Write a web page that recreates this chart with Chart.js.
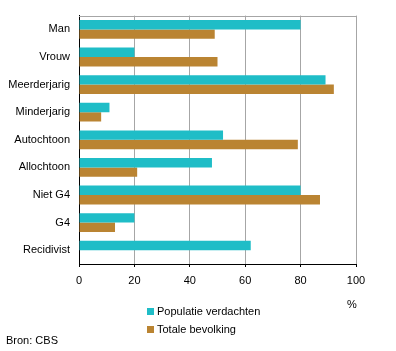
<!DOCTYPE html>
<html>
<head>
<meta charset="utf-8">
<script src="https://cdn.jsdelivr.net/npm/chart.js@4/dist/chart.umd.min.js"></script>
<style>
  body { margin: 0; background: #fff; }
  #wrap { position: relative; width: 396px; height: 351px; font-family: "Liberation Sans", Arial, sans-serif; font-size: 11px; color: #000; }
  canvas { position: absolute; left: 0; top: 0; }
  .lbl { position: absolute; white-space: nowrap; line-height: 13px; }
  .box { display: inline-block; width: 7px; height: 7px; margin-right: 3px; vertical-align: 0px; }
</style>
</head>
<body>
<div id="wrap">
  <canvas id="chart" width="396" height="351"></canvas>
  <div class="lbl" style="left:347px; top:298px;">%</div>
  <div class="lbl" id="leg1" style="left:147px; top:305px;"><span class="box" style="background:#1fbdc7"></span>Populatie verdachten</div>
  <div class="lbl" id="leg2" style="left:147px; top:323px;"><span class="box" style="background:#ba8432"></span>Totale bevolking</div>
  <div class="lbl" style="left:6px; top:334px;">Bron: CBS</div>
</div>
<script>
const categories = ["Man", "Vrouw", "Meerderjarig", "Minderjarig", "Autochtoon", "Allochtoon", "Niet G4", "G4", "Recidivist"];
const verdachten = [80, 20, 89, 11, 52, 48, 80, 20, 62];
const bevolking = [49, 50, 92, 8, 79, 21, 87, 13, null];
const xTicks = [0, 20, 40, 60, 80, 100];

// gray line along the top of the plot area
const topBorder = {
  id: "topBorder",
  beforeDatasetsDraw(chart) {
    const { ctx, chartArea } = chart;
    ctx.save();
    ctx.strokeStyle = "#a6a6a6";
    ctx.lineWidth = 1;
    ctx.beginPath();
    ctx.moveTo(chartArea.left, Math.round(chartArea.top) + 0.5);
    ctx.lineTo(chartArea.right, Math.round(chartArea.top) + 0.5);
    ctx.stroke();
    ctx.restore();
  }
};

const ctx = document.getElementById("chart").getContext("2d");
new Chart(ctx, {
  type: "bar",
  data: {
    labels: categories,
    datasets: [
      { label: "Populatie verdachten", data: verdachten, backgroundColor: "#1fbdc7" },
      { label: "Totale bevolking", data: bevolking, backgroundColor: "#ba8432" }
    ]
  },
  options: {
    indexAxis: "y",
    responsive: false,
    animation: false,
    layout: { padding: { top: 14, right: 40, left: 0, bottom: 0 } },
    datasets: { bar: { categoryPercentage: 0.68, barPercentage: 1 } },
    plugins: { legend: { display: false }, tooltip: { enabled: false } },
    scales: {
      x: {
        min: 0,
        max: 100,
        afterBuildTicks(scale) { scale.ticks = xTicks.map(v => ({ value: v })); },
        afterFit(scale) { scale.height = 87; },
        grid: { color: "#a6a6a6", tickColor: "#000", tickLength: 3, drawTicks: true },
        border: { color: "#000" },
        ticks: { color: "#000", padding: 7, font: { family: "Liberation Sans", size: 11 } }
      },
      y: {
        afterFit(scale) { scale.width = 79; },
        grid: { display: false, drawTicks: false, tickLength: 0 },
        border: { color: "#000" },
        ticks: { color: "#000", padding: 9, font: { family: "Liberation Sans", size: 11 } }
      }
    }
  },
  plugins: [topBorder]
});
</script>
</body>
</html>
